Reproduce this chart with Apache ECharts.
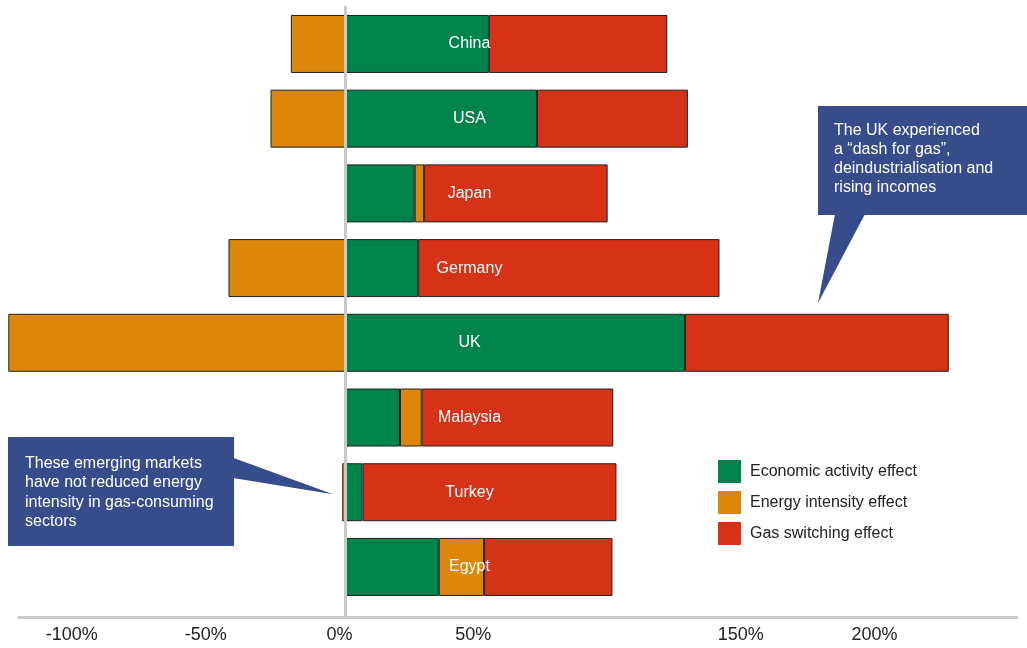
<!DOCTYPE html>
<html>
<head>
<meta charset="utf-8">
<script src="https://cdn.jsdelivr.net/npm/echarts@6/dist/echarts.min.js"></script>
<style>
html,body{margin:0;padding:0;background:#fff;}
#chart{width:1027px;height:648px;}
</style>
</head>
<body>
<div id="chart"></div>
<script>
const categories = ['China', 'USA', 'Japan', 'Germany', 'UK', 'Malaysia', 'Turkey', 'Egypt'];
const economicActivity = [53.6, 71.6, 25.9, 27.2, 126.9, 20.4, 6.4, 34.9];
const energyIntensity = [-20.4, -28.0, 3.5, -43.7, -126.0, 8.1, -1.2, 16.9];
const gasSwitching = [66.7, 56.4, 68.6, 112.6, 98.6, 71.6, 94.9, 48.0];
const tickValues = [-100, -50, 0, 50, 150, 200];
const seriesNames = ['Economic activity effect', 'Energy intensity effect', 'Gas switching effect'];
const colors = ['#00844b', '#dd870a', '#d53217'];
const calloutUK = ['The UK experienced', 'a \u201cdash for gas\u201d,', 'deindustrialisation and', 'rising incomes'];
const calloutEM = ['These emerging markets', 'have not reduced energy', 'intensity in gas-consuming', 'sectors'];

const FONT = "'Liberation Sans', Arial, sans-serif";
const X_MIN = -122, X_MAX = 251;
const BOX = '#374c8a';

const chart = echarts.init(document.getElementById('chart'), null, {renderer: 'canvas'});

function barSeries(name, data, color) {
  return {
    name: name,
    type: 'bar',
    stack: 'total',
    xAxisIndex: 0,
    yAxisIndex: 0,
    barWidth: 58,
    clip: false,
    data: data,
    itemStyle: {color: color, borderColor: '#222', borderWidth: 1},
    emphasis: {disabled: true}
  };
}

chart.setOption({
  animation: false,
  textStyle: {fontFamily: FONT},
  grid: [
    {left: 19, right: 10, top: 6.6, height: 597.7},
    {left: 19, right: 10, top: 7, bottom: 31}
  ],
  xAxis: [
    {type: 'value', gridIndex: 0, min: X_MIN, max: X_MAX, show: false},
    {
      type: 'value', gridIndex: 1, min: X_MIN, max: X_MAX,
      axisLine: {show: true, onZero: false, lineStyle: {color: '#c9c9c9', width: 3}},
      axisTick: {show: false},
      splitLine: {show: false},
      axisLabel: {
        customValues: tickValues,
        formatter: v => v + '%',
        color: '#222', fontSize: 18, fontFamily: FONT,
        margin: 9, padding: [0, 12, 0, 0]
      }
    }
  ],
  yAxis: [
    {
      type: 'category', gridIndex: 0, data: categories, inverse: true, z: 10,
      axisLine: {show: false, onZero: false},
      axisTick: {show: false},
      axisLabel: {inside: true, interval: 0, margin: 450.5, align: 'center', color: '#fff', fontSize: 16, fontFamily: FONT}
    },
    {
      type: 'value', gridIndex: 1, min: 0, max: 1, z: 10,
      axisLine: {show: true, onZero: true, lineStyle: {color: '#c9c9c9', width: 3}},
      axisTick: {show: false},
      axisLabel: {show: false},
      splitLine: {show: false}
    }
  ],
  legend: {
    orient: 'vertical',
    left: 718, top: 460,
    padding: 0,
    itemWidth: 23, itemHeight: 23, itemGap: 8,
    icon: 'rect',
    itemStyle: {borderWidth: 0},
    textStyle: {color: '#222', fontSize: 16, fontFamily: FONT, padding: [0, 0, 0, 4]},
    data: seriesNames
  },
  series: [
    barSeries(seriesNames[0], economicActivity, colors[0]),
    barSeries(seriesNames[1], energyIntensity, colors[1]),
    barSeries(seriesNames[2], gasSwitching, colors[2])
  ],
  graphic: [
    {type: 'rect', shape: {x: 818, y: 106, width: 215, height: 109}, style: {fill: BOX}, z: 20},
    {type: 'polygon', shape: {points: [[835, 214], [865, 214], [818, 303]]}, style: {fill: BOX}, z: 20},
    {type: 'text', x: 834, y: 121.5, z: 21,
      style: {text: calloutUK.join('\n'), fill: '#fff', font: '16px ' + FONT, lineHeight: 19}},
    {type: 'rect', shape: {x: 8, y: 437, width: 226, height: 109}, style: {fill: BOX}, z: 20},
    {type: 'polygon', shape: {points: [[233, 457.7], [233, 478], [333, 494.3]]}, style: {fill: BOX}, z: 20},
    {type: 'text', x: 25, y: 453.5, z: 21,
      style: {text: calloutEM.join('\n'), fill: '#fff', font: '16px ' + FONT, lineHeight: 19.5}}
  ]
});
</script>
</body>
</html>
